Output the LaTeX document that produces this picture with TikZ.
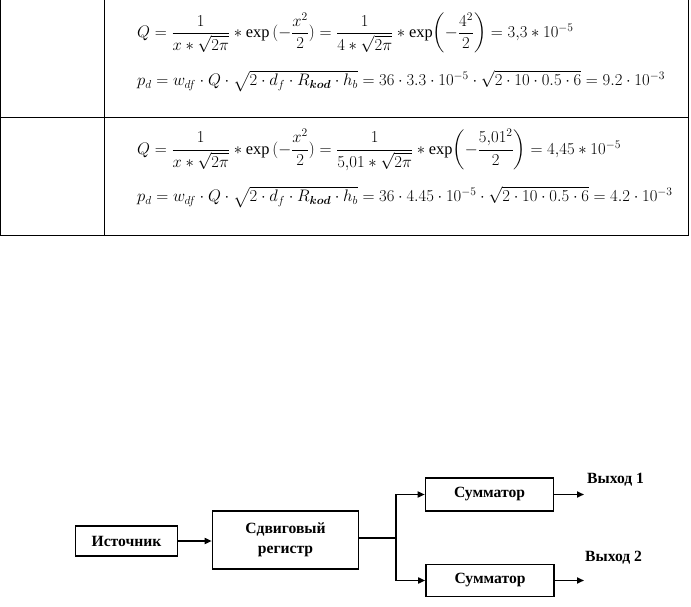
\documentclass[tikz,border=0pt]{standalone}
\usepackage{amsmath}
\usepackage{graphicx}
\usepackage{fontspec}
\setmainfont{Liberation Serif}
\usetikzlibrary{arrows.meta}
\newcommand{\fsc}[1]{\scalebox{0.965}{#1}}
\tikzset{
  tbl/.style={line width=1pt, black},
  fml/.style={anchor=west, inner sep=0pt, font=\fontsize{17}{19}\selectfont},
  blk/.style={draw, line width=1.6pt, inner sep=0pt, align=center, font=\fontsize{15.6}{17.5}\selectfont\bfseries},
  conn/.style={line width=1.6pt, -{Triangle[length=7pt,width=6pt]}},
  lbl/.style={inner sep=0pt, font=\fontsize{15.6}{17.5}\selectfont\bfseries}
}
\begin{document}
\begin{tikzpicture}[x=1pt,y=-1pt]
\useasboundingbox (0,0) rectangle (691,607);
% table
\draw[tbl] (0.5,0) -- (0.5,235) (104.5,0) -- (104.5,235) (688,0) -- (688,235);
\draw[tbl] (0,118) -- (688.5,118) (0,235) -- (688.5,235);
% formulas
\node[fml] (f1) at (137,33) {\fsc{$Q=\dfrac{1}{x\ast\sqrt{2\pi}}\ast\exp\,(-\dfrac{x^2}{2})=\dfrac{1}{4\ast\sqrt{2\pi}}\ast\exp\biggl(-\dfrac{4^2}{2}\biggr)=3{,}3\ast10^{-5}$}};
\node[fml] (f2) at (137,81) {\fsc{$p_d=w_{df}\cdot Q\cdot\sqrt{2\cdot d_f\cdot R_{\boldsymbol{kod}}\cdot h_b}=36\cdot3.3\cdot10^{-5}\cdot\sqrt{2\cdot10\cdot0.5\cdot6}=9.2\cdot10^{-3}$}};
\node[fml] (f3) at (137,150) {\fsc{$Q=\dfrac{1}{x\ast\sqrt{2\pi}}\ast\exp\,(-\dfrac{x^2}{2})=\dfrac{1}{5{,}01\ast\sqrt{2\pi}}\ast\exp\biggl(-\dfrac{5{,}01^2}{2}\biggr)=4{,}45\ast10^{-5}$}};
\node[fml] (f4) at (137,197) {\fsc{$p_d=w_{df}\cdot Q\cdot\sqrt{2\cdot d_f\cdot R_{\boldsymbol{kod}}\cdot h_b}=36\cdot4.45\cdot10^{-5}\cdot\sqrt{2\cdot10\cdot0.5\cdot6}=4.2\cdot10^{-3}$}};
% diagram
\node[blk, minimum width=102pt, minimum height=30pt] (src) at (126.5,541) {Источник};
\node[blk, minimum width=146pt, minimum height=58pt] (reg) at (285.5,540) {Сдвиговый\\[2pt]регистр};
\node[blk, minimum width=128pt, minimum height=33pt] (s1) at (489.5,494.5) {Сумматор};
\node[blk, minimum width=128pt, minimum height=32pt] (s2) at (490,580.5) {Сумматор};
\coordinate (br) at (396,538);
\coordinate (o1) at (584,494.5);
\coordinate (o2) at (584,580.5);
\node[lbl, anchor=west] (l1) at (587,480) {Выход 1};
\node[lbl, anchor=west] (l2) at (585,558) {Выход 2};
\draw[conn] (src.east) -- (reg.west |- src.east);
\draw[line width=1.6pt] (reg.east |- br) -- (br);
\draw[conn] (br) |- (s1.west);
\draw[conn] (br) |- (s2.west);
\draw[conn] (s1.east) -- (o1);
\draw[conn] (s2.east) -- (o2);
\end{tikzpicture}
\end{document}
